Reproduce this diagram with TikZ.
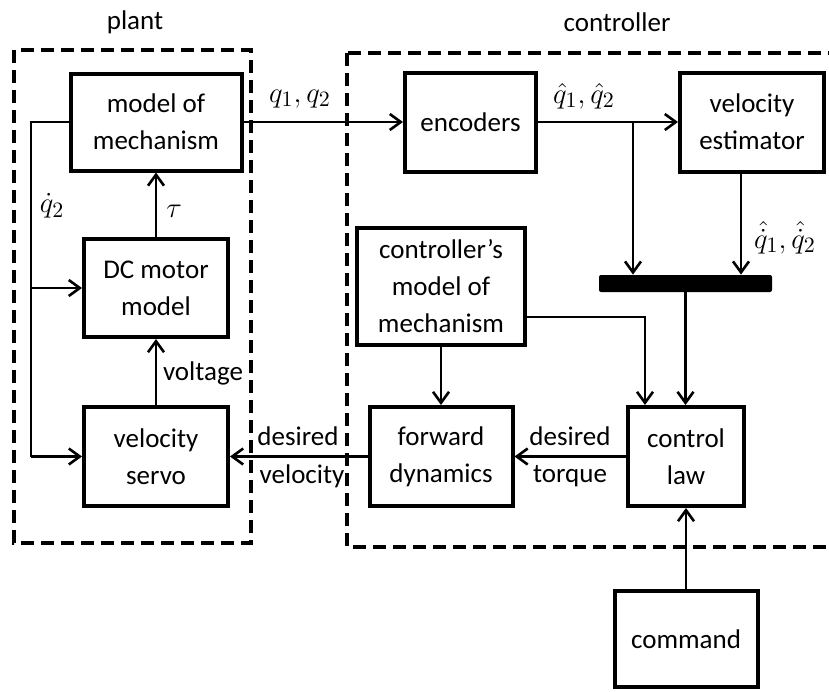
\documentclass[tikz,border=0pt]{standalone}
\usepackage{amsmath}
\usepackage{amssymb}
\usepackage{fontspec}
\setmainfont{Carlito}
\usepackage{tikz}
\usetikzlibrary{arrows.meta}

\begin{document}
\begin{tikzpicture}[x=0.5pt,y=-0.5pt,
	every node/.style={font=\fontsize{13.5}{18.5}\selectfont},
	blk/.style={draw,line width=2pt,align=center,inner sep=0pt},
	grp/.style={line width=1.75pt,dash pattern=on 6.5pt off 3.5pt},
	sig/.style={line width=1.3pt},
	mlbl/.style={font=\fontsize{15.5}{18.5}\selectfont,inner sep=1pt},
	>={Straight Barb[length=5.5pt,width=8pt]}]
	\useasboundingbox (0,0) rectangle (829,691);
	\clip (0,0) rectangle (829,691);

	% the two groups
	\draw[grp] (14,50) rectangle (251,543);
	\draw[grp] (347,53) rectangle (860,547);
	\node (plantlbl) at (135,22) {plant};
	\node (ctrllbl) at (617,22) {controller};

	% plant blocks
	\node[blk,minimum width=85.5pt,minimum height=48.5pt] (mech) at (156,122) {model of\\mechanism};
	\node[blk,minimum width=72pt,minimum height=49pt] (dcm) at (156,288) {DC motor\\model};
	\node[blk,minimum width=72pt,minimum height=49.5pt] (servo) at (156,456.5) {velocity\\servo};

	% controller blocks
	\node[blk,minimum width=65.5pt,minimum height=49.5pt] (enc) at (470.5,122) {encoders};
	\node[blk,minimum width=72pt,minimum height=49.5pt] (vest) at (752,122) {velocity\\estimator};
	\node[blk,minimum width=84pt,minimum height=58.5pt] (cmodel) at (441,286.5) {controller’s\\model of\\mechanism};
	\node[blk,minimum width=71.5pt,minimum height=49.5pt] (fwd) at (441,456.5) {forward\\dynamics};
	\node[blk,minimum width=58pt,minimum height=49.5pt] (claw) at (686,456.5) {control\\law};
	\node[blk,minimum width=71.5pt,minimum height=48pt] (cmd) at (686,639) {command};
	\node[fill,rounded corners=1pt,minimum width=86.5pt,minimum height=8.5pt,inner sep=0pt] (bar) at (685.5,283.5) {};

	\coordinate (fb) at (31,0);
	\coordinate (br) at (633,122);
	\coordinate (vo) at (741,0);
	\coordinate (ci) at (645,317);

	% plant signals
	\draw[sig,->] (mech.east) -- (enc.west);
	\node[mlbl] (qlbl) at (300,99) {$q_1,q_2$};
	\draw[sig,->] (dcm.north) -- (mech.south);
	\node[mlbl] (taulbl) at (174,211) {$\tau$};
	\draw[sig,->] (servo.north) -- (dcm.south);
	\node (vlbl) at (203,373) {voltage};
	\draw[sig] (mech.west) -- (mech.west -| fb) -- (servo.west -| fb);
	\draw[sig,->] (dcm.west -| fb) -- (dcm.west);
	\draw[sig,->] (servo.west -| fb) -- (servo.west);
	\node[mlbl] (qdlbl) at (52,206) {$\dot q_2$};

	% controller signals
	\draw[sig,->] (enc.east) -- (vest.west);
	\node[mlbl] (qhlbl) at (584,96) {$\hat q_1,\hat q_2$};
	\draw[sig,->] (br) -- (br |- bar.north);
	\draw[sig,->] (vest.south -| vo) -- (bar.north -| vo);
	\node[mlbl] (qhdlbl) at (785,238) {$\hat{\dot q}_1,\hat{\dot q}_2$};
	\draw[sig,->] (bar.south) -- (bar.south |- claw.north);
	\draw[sig,->] (cmodel.east |- ci) -- (ci) -- (ci |- claw.north);
	\draw[sig,->] (cmodel.south) -- (fwd.north);
	\draw[sig,->] (claw.west) -- (fwd.east);
	\node (dt1) at (570,436) {desired};
	\node (dt2) at (570,476) {torque};
	\draw[sig,->] (fwd.west) -- (servo.east);
	\node (dv1) at (298,436) {desired};
	\node (dv2) at (302,476) {velocity};
	\draw[sig,->] (cmd.north) -- (claw.south);
\end{tikzpicture}
\end{document}
